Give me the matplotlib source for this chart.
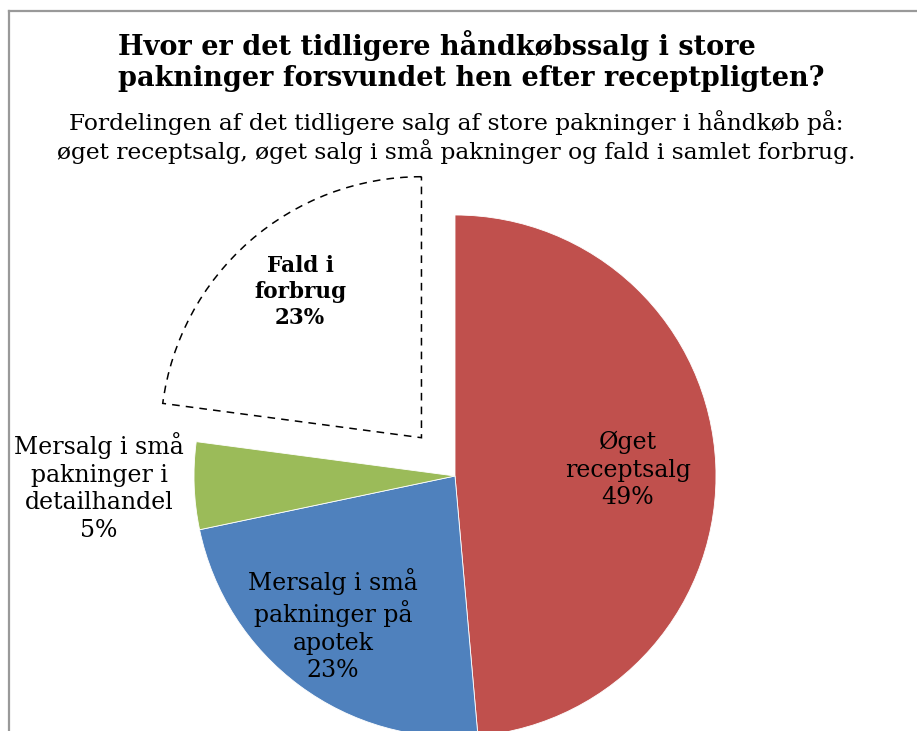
import matplotlib.pyplot as plt
from matplotlib.lines import Line2D

# Data
labels = ['Øget\nreceptsalg', 'Mersalg i små\npakninger på\napotek',
          'Mersalg i små\npakninger i\ndetailhandel', 'Fald i\nforbrug']
shares = [48.6, 23.1, 5.4, 22.9]
colors = ['#C0504D', '#4F81BD', '#9BBB59', 'white']
explode_frac = [0, 0, 0, 0.195]

title = 'Hvor er det tidligere håndkøbssalg i store\npakninger forsvundet hen efter receptpligten?'
subtitle = ('Fordelingen af det tidligere salg af store pakninger i håndkøb på:\n'
            'øget receptsalg, øget salg i små pakninger og fald i samlet forbrug.')

plt.rcParams['font.family'] = 'DejaVu Serif'

W, H = 917, 731
R = 261
fig = plt.figure(figsize=(W / 100, H / 100), dpi=100)
ax = fig.add_axes([0, 0, 1, 1])

# pie explode is in data units, scale by radius
wedges, _ = ax.pie(shares, colors=colors, explode=[e * R for e in explode_frac],
                   startangle=90, counterclock=False, radius=R, center=(455, H - 476),
                   wedgeprops=dict(edgecolor='white', linewidth=0.6), frame=False)
w = wedges[3]
w.set_edgecolor('black')
w.set_linestyle((0, (5, 4)))
w.set_linewidth(1.1)

ax.set_xlim(0, W)
ax.set_ylim(0, H)
ax.set_aspect('equal')
ax.axis('off')

# frame (left + top border)
fig.add_artist(Line2D([8.5 / W, 8.5 / W], [0, 1 - 10.5 / H], color='#999999', lw=1.6))
fig.add_artist(Line2D([8.5 / W, 1], [1 - 10.5 / H, 1 - 10.5 / H], color='#999999', lw=1.6))

# titles
ax.text(118, H - 61, title, ha='left', va='center', fontsize=19.5,
        fontweight='bold', linespacing=1.2)
ax.text(456, H - 137, subtitle, ha='center', va='center', fontsize=16.8,
        linespacing=1.25)

# data labels
pos = [(628, 470), (333, 625), (99, 487), (300, 292)]
for lab, v, (x, y), i in zip(labels, shares, pos, range(4)):
    ax.text(x, H - y, f'{lab}\n{round(v)}%', ha='center', va='center',
            fontsize=15.5 if i == 3 else 17, linespacing=1.25,
            fontweight='bold' if i == 3 else 'normal')

fig.savefig('out.png', dpi=100)
